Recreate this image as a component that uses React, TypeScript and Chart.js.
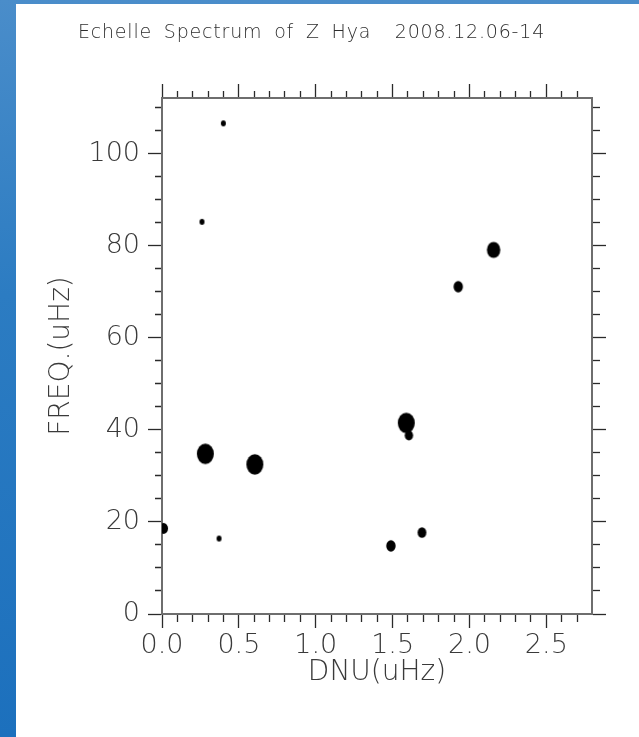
import React, { useEffect, useRef } from 'react';
import { Chart, registerables } from 'chart.js';

Chart.register(...registerables);

// ---------- data ----------
const TITLE = 'Echelle Spectrum of Z Hya  2008.12.06-14';
const X_LABEL = 'DNU(uHz)';
const Y_LABEL = 'FREQ.(uHz)';

const dnu = [0.399, 0.26, 2.157, 1.927, 0.282, 0.604, 1.589, 1.606, 0.01, 0.371, 1.489, 1.691];
const freq = [106.6, 85.2, 79.1, 71.1, 34.8, 32.5, 41.5, 38.8, 18.6, 16.4, 14.8, 17.7];
const amplitude = [2.5, 2.5, 6.7, 4.7, 8.5, 8.5, 8.5, 4.2, 4.5, 2.5, 4.7, 4.4];

const X_MIN = 0;
const X_MAX = 2.797;
const X_MAJOR = 0.5;
const X_MINOR = 0.1;
const Y_MIN = 0;
const Y_MAX = 112.1;
const Y_MAJOR = 20;
const Y_MINOR = 5;
const xTickLabels = ['0.0', '0.5', '1.0', '1.5', '2.0', '2.5'];
const yTickLabels = ['0', '20', '40', '60', '80', '100'];

// ---------- styling helpers ----------
const FONT = "'DejaVu Sans', 'Noto Sans', sans-serif";
const TEXT_COLOR = '#3a3a3a';
const TICK_COLOR = '#2a2a2a';
const BORDER_COLOR = '#6e6e6e';
const MAJOR_LEN = 14;
const MINOR_LEN = 7;

const isMult = (v: number, step: number) => Math.abs(v / step - Math.round(v / step)) < 1e-6;

function grid(major: number, outerFirst: boolean) {
  return {
    drawOnChartArea: false,
    drawTicks: true,
    tickLength: MAJOR_LEN,
    tickWidth: 1.3,
    tickColor: TICK_COLOR,
    tickBorderDashOffset: 0,
    tickBorderDash: (ctx: any) =>
      isMult(ctx.tick.value, major)
        ? []
        : outerFirst
        ? [0, MAJOR_LEN - MINOR_LEN, MINOR_LEN, 200]
        : [MINOR_LEN, 200],
  };
}

const border = { display: true, color: BORDER_COLOR, width: 2 };

const ellipseCache = new Map<number, HTMLCanvasElement>();
function ellipseMarker(rx: number): HTMLCanvasElement {
  const hit = ellipseCache.get(rx);
  if (hit) return hit;
  const ry = rx * 1.2;
  const c = document.createElement('canvas');
  const w = Math.ceil(rx * 2) + 2;
  const h = Math.ceil(ry * 2) + 2;
  c.width = w;
  c.height = h;
  const g = c.getContext('2d')!;
  g.fillStyle = '#000';
  g.beginPath();
  g.ellipse(w / 2, h / 2, rx, ry, 0, 0, Math.PI * 2);
  g.fill();
  ellipseCache.set(rx, c);
  return c;
}

const titleSpacing = {
  id: 'titleSpacing',
  beforeDraw(chart: any) {
    const tb = chart.titleBlock;
    if (tb && !tb.__spaced) {
      const orig = tb.draw.bind(tb);
      tb.draw = (...args: any[]) => {
        const ctx = chart.ctx as any;
        const l = ctx.letterSpacing;
        const w = ctx.wordSpacing;
        ctx.letterSpacing = '0.8px';
        ctx.wordSpacing = '5px';
        orig(...args);
        ctx.letterSpacing = l;
        ctx.wordSpacing = w;
      };
      tb.__spaced = true;
    }
  },
};

export default function App() {
  const ref = useRef<HTMLCanvasElement>(null);

  useEffect(() => {
    if (!ref.current) return;
    const points = dnu.map((x, i) => ({ x, y: freq[i], r: amplitude[i] }));
    const tickFont = { family: FONT, size: 27, weight: 200 as any };
    const titleFont = { family: FONT, size: 28, weight: 200 as any };

    const chart = new Chart(ref.current, {
      type: 'bubble',
      data: {
        datasets: [
          {
            data: points,
            backgroundColor: '#000',
            borderWidth: 0,
            pointStyle: (ctx: any) => ellipseMarker(ctx.raw ? ctx.raw.r : 3),
          } as any,
        ],
      },
      plugins: [titleSpacing],
      options: {
        animation: false,
        responsive: false,
        events: [],
        layout: { padding: { left: 0, right: 16, top: 0, bottom: 0 } },
        plugins: {
          legend: { display: false },
          tooltip: { enabled: false },
          title: {
            display: true,
            text: TITLE,
            color: '#2e2e2e',
            font: { family: FONT, size: 19, weight: 200 as any, lineHeight: 1.2 },
            padding: { top: 22, bottom: 0 },
          },
        },
        scales: {
          x: {
            type: 'linear',
            position: 'bottom',
            min: X_MIN,
            max: X_MAX,
            grid: grid(X_MAJOR, false) as any,
            border,
            ticks: {
              stepSize: X_MINOR,
              includeBounds: false,
              autoSkip: false,
              maxRotation: 0,
              padding: 2,
              color: TEXT_COLOR,
              font: tickFont,
              callback: (v: any) =>
                isMult(Number(v), X_MAJOR) ? xTickLabels[Math.round(Number(v) / X_MAJOR)] ?? '' : '',
            },
            title: {
              display: true,
              text: X_LABEL,
              color: TEXT_COLOR,
              font: titleFont,
              padding: { top: 0, bottom: 47 },
            },
            afterFit: (s: any) => {
              s.height = 737 - 614;
            },
          } as any,
          x2: {
            type: 'linear',
            position: 'top',
            min: X_MIN,
            max: X_MAX,
            grid: grid(X_MAJOR, true) as any,
            border,
            ticks: { stepSize: X_MINOR, includeBounds: false, autoSkip: false, display: false },
            afterFit: (s: any) => {
              s.height = 98 - 22 - 19 * 1.2;
            },
          } as any,
          y: {
            type: 'linear',
            position: 'left',
            min: Y_MIN,
            max: Y_MAX,
            grid: grid(Y_MAJOR, true) as any,
            border,
            ticks: {
              stepSize: Y_MINOR,
              includeBounds: false,
              autoSkip: false,
              padding: 8,
              color: TEXT_COLOR,
              font: tickFont,
              callback: (v: any) =>
                isMult(Number(v), Y_MAJOR) ? yTickLabels[Math.round(Number(v) / Y_MAJOR)] ?? '' : '',
            },
            title: {
              display: true,
              text: Y_LABEL,
              color: TEXT_COLOR,
              font: titleFont,
              padding: { top: 45, bottom: 0 },
            },
            afterFit: (s: any) => {
              s.width = 162;
            },
          } as any,
          y2: {
            type: 'linear',
            position: 'right',
            min: Y_MIN,
            max: Y_MAX,
            grid: grid(Y_MAJOR, false) as any,
            border,
            ticks: { stepSize: Y_MINOR, includeBounds: false, autoSkip: false, display: false },
            afterFit: (s: any) => {
              s.width = 639 - 16 - 592;
            },
          } as any,
        },
      },
    });
    return () => chart.destroy();
  }, []);

  return (
    <div
      style={{
        position: 'fixed',
        left: 0,
        top: 0,
        width: 639,
        height: 737,
        background: 'linear-gradient(180deg, #4a8dca 0%, #2c7cc2 40%, #1c70bd 100%)',
        overflow: 'hidden',
      }}
    >
      <div style={{ position: 'absolute', left: 16, top: 4, right: 0, bottom: 0, background: '#fff' }} />
      <canvas
        ref={ref}
        width={639}
        height={737}
        style={{ position: 'absolute', left: 0, top: 0, width: 639, height: 737 }}
      />
    </div>
  );
}
